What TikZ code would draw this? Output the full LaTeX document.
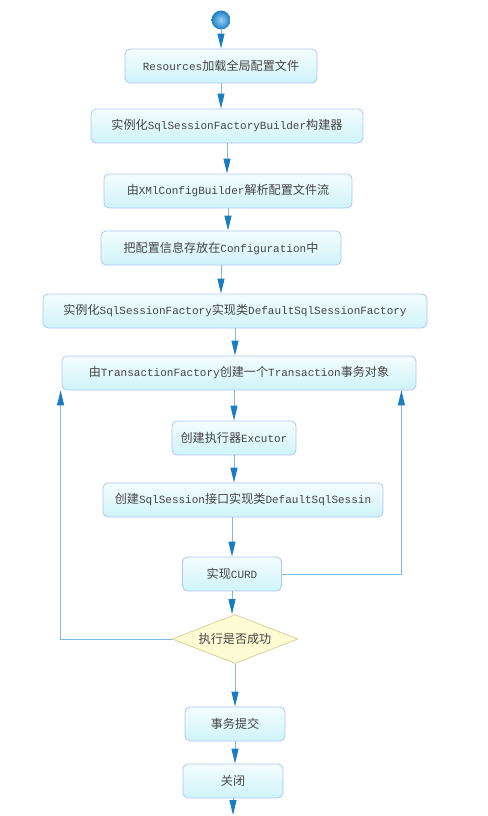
\documentclass[tikz,border=0pt]{standalone}
\usepackage{fontspec}
\setmainfont{Liberation Mono}
\newfontfamily\zhfont{Noto Sans CJK SC}[Scale=1.1]
\newcommand{\zh}[1]{{\zhfont #1}}
\usetikzlibrary{arrows.meta,shapes.geometric}
\definecolor{flowline}{HTML}{7DB9E2}
\definecolor{flowtip}{HTML}{1A7DC4}
\definecolor{ballcenter}{HTML}{9ACFF0}
\definecolor{ballrim}{HTML}{1C7FC4}
\definecolor{stepedge}{HTML}{AEC6F2}
\definecolor{steptop}{HTML}{F4FDFE}
\definecolor{stepbottom}{HTML}{CFF3F9}
\definecolor{choicefill}{HTML}{FCFBD3}
\definecolor{choiceedge}{HTML}{D8D49A}
\definecolor{labelgray}{HTML}{444444}

\begin{document}
\begin{tikzpicture}[
  x=1pt,
  y=-1pt,
  font=\fontsize{11}{13}\selectfont,
  stepbox/.style={draw=stepedge,line width=0.8pt,rounded corners=5pt,
    top color=steptop,bottom color=stepbottom,minimum height=34pt,
    inner sep=2pt,text=labelgray},
  choice/.style={diamond,draw=choiceedge,line width=0.8pt,fill=choicefill,
    aspect=2.6,minimum width=126pt,minimum height=49pt,inner sep=0pt,
    text=labelgray},
  flow/.style={draw=flowline,line width=1pt,
    -{Triangle[length=15pt,width=7pt,color=flowtip]}}
]
  \useasboundingbox (0,0) rectangle (487,816);

  % Start marker and the set-up chain.
  \node[circle,minimum size=19pt,inner sep=0pt,inner color=ballcenter,outer color=ballrim] (start) at (221,20) {};
  \node[stepbox,minimum width=192pt] (res) at (221,66) {Resources\zh{加载全局配置文件}};
  \node[stepbox,minimum width=272pt] (builder) at (227,126) {\zh{实例化}SqlSessionFactoryBuilder\zh{构建器}};
  \node[stepbox,minimum width=248pt] (xmlparse) at (228,191) {\zh{由}XMlConfigBuilder\zh{解析配置文件流}};
  \node[stepbox,minimum width=240pt] (store) at (221,248) {\zh{把配置信息存放在}Configuration\zh{中}};
  \node[stepbox,minimum width=384pt] (factory) at (235,311) {\zh{实例化}SqlSessionFactory\zh{实现类}DefaultSqlSessionFactory};

  % Per-request steps.
  \node[stepbox,minimum width=354pt] (txn) at (239,373) {\zh{由}TransactionFactory\zh{创建一个}Transaction\zh{事务对象}};
  \node[stepbox,minimum width=124pt] (executor) at (234,438) {\zh{创建执行器}Excutor};
  \node[stepbox,minimum width=280pt] (session) at (243,500) {\zh{创建}SqlSession\zh{接口实现类}DefaultSqlSessin};
  \node[stepbox,minimum width=99pt] (curd) at (232,574) {\zh{实现}CURD};
  \node[choice] (ok) at (235,639) {\zh{执行是否成功}};
  \node[stepbox,minimum width=100pt] (commit) at (235,724) {\zh{事务提交}};
  \node[stepbox,minimum width=100pt] (close) at (233,781) {\zh{关闭}};
  \coordinate (fin) at (233,815);

  % Straight-down connectors.
  \draw[flow] (start) -- (start |- res.north);
  \draw[flow] (res) -- (res |- builder.north);
  \draw[flow] (builder) -- (builder |- xmlparse.north);
  \draw[flow] (xmlparse) -- (xmlparse |- store.north);
  \draw[flow] (store) -- (store |- factory.north);
  \draw[flow] (factory) -- (factory |- txn.north);
  \draw[flow] (executor |- txn.south) -- (executor);
  \draw[flow] (executor) -- (executor |- session.north);
  \draw[flow] (curd |- session.south) -- (curd);
  \draw[flow] (curd) -- (curd |- ok.north);
  \draw[flow] (ok) -- (ok |- commit.north);
  \draw[flow] (commit) -- (commit |- close.north);
  \draw[flow] (close) -- (fin);

  % Loops back to the transaction step.
  \draw[flow] (ok.west) -| ([xshift=-1pt]txn.south west);
  \draw[flow] (curd.east) -| ([xshift=-15pt]txn.south east);
\end{tikzpicture}
\end{document}
